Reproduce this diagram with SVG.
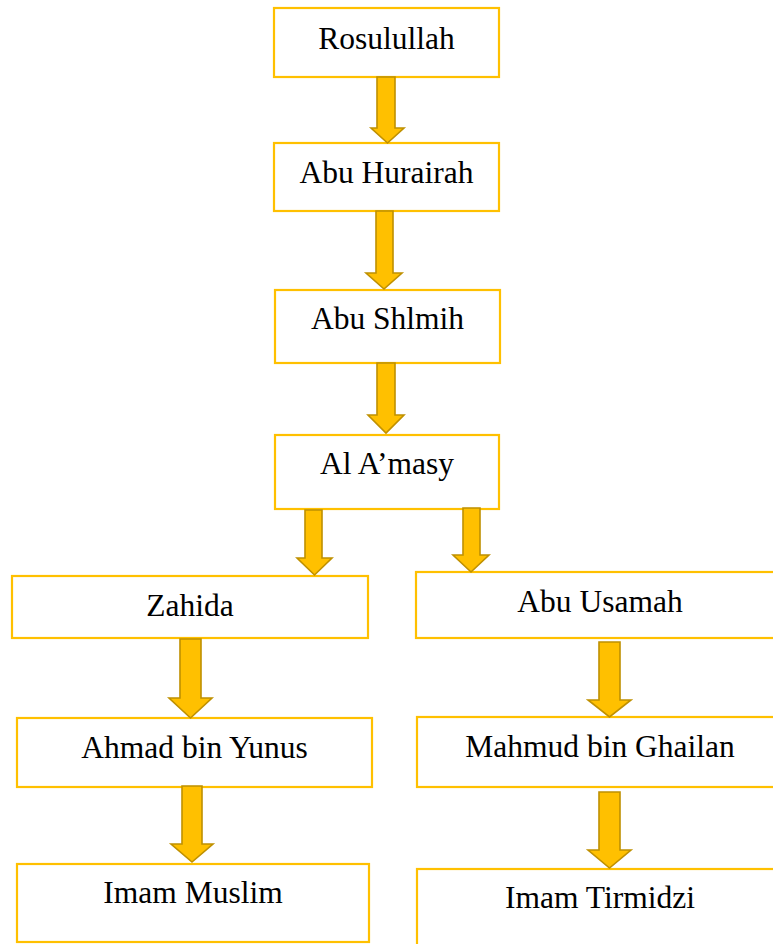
<svg xmlns="http://www.w3.org/2000/svg" width="773" height="944" viewBox="0 0 773 944">
<style>
.box{fill:#ffffff;stroke:#FFC000;stroke-width:2.2}
.lbl{font-family:'Liberation Serif', 'Tinos', 'Times New Roman', Times, 'DejaVu Serif', serif;font-size:31.5px;fill:#000000;text-anchor:middle}
.arr{fill:#FFC000;stroke:#BF9000;stroke-width:1.6;stroke-linejoin:miter}
</style>
<rect width="773" height="944" fill="#ffffff"/>
<g id="n-rosulullah"><rect class="box" x="274" y="8" width="225" height="69"/><text class="lbl" x="386.5" y="49">Rosulullah</text></g>
<g id="n-abu-hurairah"><rect class="box" x="274" y="143" width="225" height="68"/><text class="lbl" x="386.5" y="183">Abu Hurairah</text></g>
<g id="n-abu-shlmih"><rect class="box" x="275" y="290" width="225" height="73"/><text class="lbl" x="387.5" y="329">Abu Shlmih</text></g>
<g id="n-al-amasy"><rect class="box" x="275" y="435" width="224" height="74"/><text class="lbl" x="387" y="474">Al A’masy</text></g>
<g id="n-zahida"><rect class="box" x="12" y="576" width="356" height="62"/><text class="lbl" x="190" y="616">Zahida</text></g>
<g id="n-ahmad"><rect class="box" x="17" y="718" width="355" height="69"/><text class="lbl" x="194.5" y="758">Ahmad bin Yunus</text></g>
<g id="n-imam-muslim"><rect class="box" x="17" y="864" width="352" height="78"/><text class="lbl" x="193" y="903">Imam Muslim</text></g>
<g id="n-abu-usamah"><rect class="box" x="416" y="572" width="368" height="66"/><text class="lbl" x="600" y="612">Abu Usamah</text></g>
<g id="n-mahmud"><rect class="box" x="417" y="717" width="367" height="70"/><text class="lbl" x="600" y="757">Mahmud bin Ghailan</text></g>
<g id="n-imam-tirmidzi"><rect class="box" x="417" y="869" width="367" height="91"/><text class="lbl" x="600" y="908">Imam Tirmidzi</text></g>
<g id="connectors">
<polygon class="arr" points="377,77 395,77 395,128 404,128 387.5,143 371,128 377,128"/>
<polygon class="arr" points="376,211 393,211 393,273 402,273 384,289 366,273 376,273"/>
<polygon class="arr" points="377,363 395,363 395,415 404,415 386,433 368,415 377,415"/>
<polygon class="arr" points="305,510 322,510 322,558 332,558 314.5,575 297,558 305,558"/>
<polygon class="arr" points="463,508 480,508 480,555 489,555 471,572 453,555 463,555"/>
<polygon class="arr" points="180,639 201,639 201,698 212,698 190.5,718 169,698 180,698"/>
<polygon class="arr" points="182,786 202,786 202,844 213,844 192,862 171,844 182,844"/>
<polygon class="arr" points="599,642 620,642 620,700 631,700 609.5,717 588,700 599,700"/>
<polygon class="arr" points="599,792 620,792 620,850 631,850 609.5,868 588,850 599,850"/>
</g>
</svg>
